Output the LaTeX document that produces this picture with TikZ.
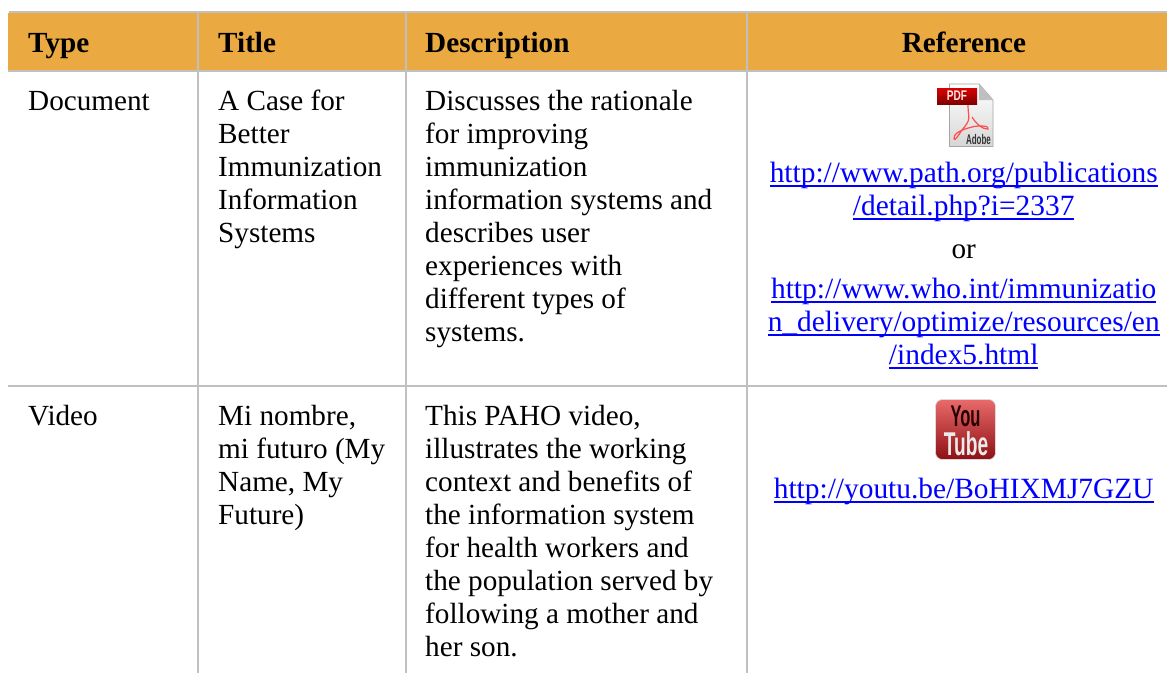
\documentclass[tikz,border=0pt]{standalone}
\usepackage{fontspec}
\setmainfont{Liberation Serif}
\newfontfamily\iconfont{Liberation Sans}
\usetikzlibrary{calc}
\definecolor{hdr}{HTML}{EAA941}
\definecolor{rulegray}{HTML}{C0C0C0}
\definecolor{linkblue}{HTML}{0000FF}
\definecolor{ytTop}{HTML}{E86A6A}
\definecolor{ytMid}{HTML}{DD2226}
\definecolor{ytBot}{HTML}{8E1014}
\newcommand{\lnk}[1]{\setbox0=\hbox{#1}\leavevmode\hbox{\rlap{\copy0}\rule[-4.8pt]{\wd0}{1.7pt}}}
\newcommand{\fl}{\rule{0pt}{22pt}}
\tikzset{
  x=1pt,y=-1pt,
  cell/.style={anchor=north west,inner sep=0pt,align=left,font=\fontsize{29.2}{33}\selectfont,text=black},
  headcell/.style={cell,font=\fontsize{29.2}{33}\selectfont\bfseries},
  linkcell/.style={anchor=north,inner sep=0pt,align=center,font=\fontsize{29.4}{33}\selectfont,text=linkblue},
  hline/.style={draw=rulegray,line width=2.2pt},
  vline/.style={draw=rulegray,line width=1.7pt},
  iconlabel/.style={inner sep=0pt,font=\iconfont\bfseries},
}
\begin{document}
\begin{tikzpicture}
\path[use as bounding box,fill=white] (0,0) rectangle (1167,673);
% header band
\fill[hdr] (8,13) rectangle (1167,70.5);
% vertical rules
\foreach \xx in {198.3,405.7,746.8}{\draw[vline] (\xx,12) -- (\xx,673);}
% horizontal rules
\draw[hline] (9,12.2) -- (1167,12.2);
\draw[hline] (8,71.2) -- (1167,71.2);
\draw[hline,line width=1.8pt] (8,385.9) -- (1167,385.9);
% header text
\node[headcell] (hType) at (28,30) {\fl Type};
\node[headcell] (hTitle) at (218,30) {\fl Title};
\node[headcell] (hDesc) at (425,30) {\fl Description};
\node[headcell,anchor=north] (hRef) at (964,30) {\fl Reference};
% row 1
\node[cell] (r1type) at (28,88) {\fl Document};
\node[cell] (r1title) at (218,88) {\fl A Case for\\Better\\Immunization\\Information\\Systems};
\node[cell] (r1desc) at (425,88) {\fl Discusses the rationale\\for improving\\immunization\\information systems and\\describes user\\experiences with\\different types of\\systems.};
\node[linkcell] (r1linkA) at (963.7,160) {\fl\lnk{http://www.path.org/publications}\\\lnk{/detail.php?i=2337}};
\node[cell,anchor=north] (r1or) at (963.7,236) {\fl or};
\node[linkcell] (r1linkB) at (963.7,276) {\fl\lnk{http://www.who.int/immunizatio}\\\lnk{n\_delivery/optimize/resources/en}\\\lnk{/index5.html}};
% row 2
\node[cell] (r2type) at (28,403) {\fl Video};
\node[cell] (r2title) at (218,403) {\fl Mi nombre,\\mi futuro (My\\Name, My\\Future)};
\node[cell] (r2desc) at (425,403) {\fl This PAHO video,\\illustrates the working\\context and benefits of\\the information system\\for health workers and\\the population served by\\following a mother and\\her son.};
\node[linkcell] (r2link) at (963.7,476) {\fl\lnk{http://youtu.be/BoHIXMJ7GZU}};
% PDF icon
\shade[top color=white,bottom color=black!16,draw=black!35,line width=0.8pt]
  (949.5,84) -- (979,84) -- (993,100) -- (993,146.5) -- (949.5,146.5) -- cycle;
\fill[black!25] (979,84) -- (979,100) -- (993,100) -- cycle;
\draw[red!70!white,line width=1.2pt]
  (968,104) .. controls (968,120) and (972,118) .. (962,130)
  .. controls (958,136) and (955,141) .. (954,139)
  .. controls (953,134) and (960,130) .. (972,127)
  .. controls (980,125) and (990,126) .. (988,129)
  .. controls (984,130) and (976,124) .. (972,117);
\shade[top color=red!85!black,bottom color=red!50!black] (937,88) rectangle (977,104);
\node[iconlabel,text=white!90!red,font=\iconfont\bfseries\fontsize{14}{14}\selectfont,xscale=.72] (pdfword) at (957,96) {PDF};
\node[iconlabel,text=black!80,font=\iconfont\bfseries\fontsize{14}{14}\selectfont,xscale=.57] (adobeword) at (978.5,139.5) {Adobe};
% YouTube icon
\shade[top color=ytTop,middle color=ytMid,bottom color=ytBot,rounded corners=7pt,draw=black!15,line width=0.6pt]
  (935.5,399.5) rectangle (995.5,459.5);
\node[iconlabel,text=black!85!red,font=\iconfont\bfseries\fontsize{30}{30}\selectfont,xscale=.55] (ytYou) at (965.5,416.5) {You};
\node[iconlabel,text=black!8,font=\iconfont\bfseries\fontsize{33}{33}\selectfont,xscale=.58] (ytTube) at (966,443.5) {Tube};
\end{tikzpicture}
\end{document}
